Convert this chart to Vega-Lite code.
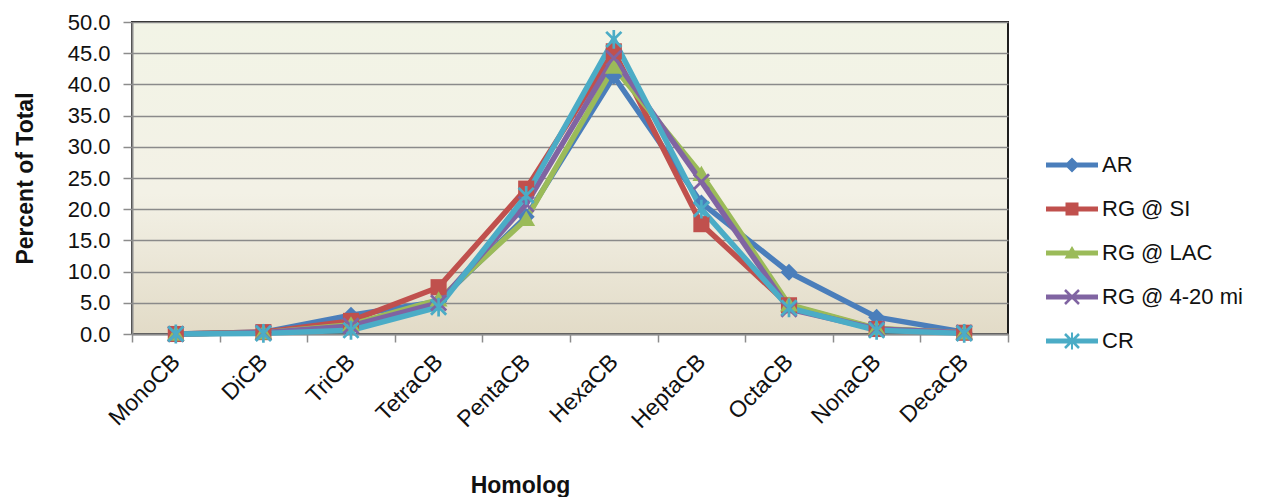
{
  "$schema": "https://vega.github.io/schema/vega-lite/v6.json",
  "width": 876,
  "height": 312,
  "autosize": "none",
  "padding": {"left": 132, "top": 22, "right": 268, "bottom": 163},
  "background": "#ffffff",
  "config": {
    "font": "Liberation Sans",
    "view": {
      "stroke": "#1e1e1e",
      "strokeWidth": 2,
      "fill": {"gradient": "linear", "x1": 0, "y1": 0, "x2": 0, "y2": 1, "stops": [{"offset": 0, "color": "#f2f4e6"}, {"offset": 0.55, "color": "#f3f1e6"}, {"offset": 1, "color": "#e2dbc7"}]}
    },
    "axis": {"labelColor": "#111111", "titleColor": "#111111", "labelFont": "Liberation Sans", "titleFont": "Liberation Sans"}
  },
  "data": {
    "values": [
      {"homolog": "MonoCB", "series": "AR", "value": 0.0},
      {"homolog": "DiCB", "series": "AR", "value": 0.3},
      {"homolog": "TriCB", "series": "AR", "value": 3.0},
      {"homolog": "TetraCB", "series": "AR", "value": 5.2},
      {"homolog": "PentaCB", "series": "AR", "value": 18.8},
      {"homolog": "HexaCB", "series": "AR", "value": 41.3},
      {"homolog": "HeptaCB", "series": "AR", "value": 21.0},
      {"homolog": "OctaCB", "series": "AR", "value": 9.9},
      {"homolog": "NonaCB", "series": "AR", "value": 2.7},
      {"homolog": "DecaCB", "series": "AR", "value": 0.3},
      {"homolog": "MonoCB", "series": "RG @ SI", "value": 0.0},
      {"homolog": "DiCB", "series": "RG @ SI", "value": 0.3},
      {"homolog": "TriCB", "series": "RG @ SI", "value": 2.1},
      {"homolog": "TetraCB", "series": "RG @ SI", "value": 7.5},
      {"homolog": "PentaCB", "series": "RG @ SI", "value": 23.3},
      {"homolog": "HexaCB", "series": "RG @ SI", "value": 45.3},
      {"homolog": "HeptaCB", "series": "RG @ SI", "value": 17.6},
      {"homolog": "OctaCB", "series": "RG @ SI", "value": 4.6},
      {"homolog": "NonaCB", "series": "RG @ SI", "value": 0.8},
      {"homolog": "DecaCB", "series": "RG @ SI", "value": 0.2},
      {"homolog": "MonoCB", "series": "RG @ LAC", "value": 0.0},
      {"homolog": "DiCB", "series": "RG @ LAC", "value": 0.2},
      {"homolog": "TriCB", "series": "RG @ LAC", "value": 1.5},
      {"homolog": "TetraCB", "series": "RG @ LAC", "value": 5.5},
      {"homolog": "PentaCB", "series": "RG @ LAC", "value": 18.4},
      {"homolog": "HexaCB", "series": "RG @ LAC", "value": 42.8},
      {"homolog": "HeptaCB", "series": "RG @ LAC", "value": 25.6},
      {"homolog": "OctaCB", "series": "RG @ LAC", "value": 4.7},
      {"homolog": "NonaCB", "series": "RG @ LAC", "value": 0.9},
      {"homolog": "DecaCB", "series": "RG @ LAC", "value": 0.2},
      {"homolog": "MonoCB", "series": "RG @ 4-20 mi", "value": 0.0},
      {"homolog": "DiCB", "series": "RG @ 4-20 mi", "value": 0.2},
      {"homolog": "TriCB", "series": "RG @ 4-20 mi", "value": 1.3},
      {"homolog": "TetraCB", "series": "RG @ 4-20 mi", "value": 5.0},
      {"homolog": "PentaCB", "series": "RG @ 4-20 mi", "value": 20.8},
      {"homolog": "HexaCB", "series": "RG @ 4-20 mi", "value": 44.2},
      {"homolog": "HeptaCB", "series": "RG @ 4-20 mi", "value": 24.4},
      {"homolog": "OctaCB", "series": "RG @ 4-20 mi", "value": 4.0},
      {"homolog": "NonaCB", "series": "RG @ 4-20 mi", "value": 0.8},
      {"homolog": "DecaCB", "series": "RG @ 4-20 mi", "value": 0.2},
      {"homolog": "MonoCB", "series": "CR", "value": 0.0},
      {"homolog": "DiCB", "series": "CR", "value": 0.1},
      {"homolog": "TriCB", "series": "CR", "value": 0.6},
      {"homolog": "TetraCB", "series": "CR", "value": 4.3},
      {"homolog": "PentaCB", "series": "CR", "value": 22.2},
      {"homolog": "HexaCB", "series": "CR", "value": 47.2},
      {"homolog": "HeptaCB", "series": "CR", "value": 20.0},
      {"homolog": "OctaCB", "series": "CR", "value": 4.2},
      {"homolog": "NonaCB", "series": "CR", "value": 0.6},
      {"homolog": "DecaCB", "series": "CR", "value": 0.1}
    ]
  },
  "encoding": {
    "x": {
      "field": "homolog",
      "type": "nominal",
      "sort": ["MonoCB", "DiCB", "TriCB", "TetraCB", "PentaCB", "HexaCB", "HeptaCB", "OctaCB", "NonaCB", "DecaCB"],
      "bandPosition": 0.5,
      "scale": {"type": "band", "paddingInner": 0, "paddingOuter": 0},
      "axis": {
        "title": "Homolog",
        "titleFontSize": 23,
        "titleFontWeight": "bold",
        "titleX": 388,
        "titleY": 158,
        "titleBaseline": "alphabetic",
        "labelAngle": -45,
        "labelAlign": "right",
        "labelBaseline": "middle",
        "labelFontSize": 23,
        "labelPadding": 16,
        "tickBand": "extent",
        "tickSize": 8,
        "tickColor": "#8c8c8c",
        "tickWidth": 1.5,
        "domainColor": "#8c8c8c",
        "domainWidth": 2,
        "grid": false
      }
    },
    "y": {
      "field": "value",
      "type": "quantitative",
      "scale": {"domain": [0, 50], "nice": false, "zero": true},
      "axis": {
        "title": "Percent of Total",
        "titleFontSize": 23,
        "titleFontWeight": "bold",
        "titlePadding": 30,
        "values": [0, 5, 10, 15, 20, 25, 30, 35, 40, 45, 50],
        "format": ".1f",
        "labelFontSize": 22,
        "labelPadding": 13,
        "tickSize": 9,
        "tickColor": "#8c8c8c",
        "tickWidth": 1.5,
        "domainColor": "#8c8c8c",
        "domainWidth": 2,
        "grid": true,
        "gridColor": "#8a8a8a",
        "gridWidth": 1.5
      }
    }
  },
  "resolve": {"scale": {"shape": "independent", "color": "independent"}},
  "layer": [
    {
      "mark": {"type": "line", "strokeWidth": 5.5, "strokeJoin": "round"},
      "encoding": {
        "color": {
          "field": "series",
          "type": "nominal",
          "scale": {"domain": ["AR", "RG @ SI", "RG @ LAC", "RG @ 4-20 mi", "CR"], "range": ["#4a7ebb", "#c0504d", "#9bbb59", "#8064a2", "#4bacc6"]},
          "legend": null
        }
      }
    },
    {
      "mark": {"type": "point", "filled": true, "opacity": 1, "size": 320},
      "encoding": {
        "color": {
          "field": "series",
          "type": "nominal",
          "scale": {"domain": ["AR", "RG @ SI", "RG @ LAC", "RG @ 4-20 mi", "CR"], "range": ["#4a7ebb", "#c0504d", "#9bbb59", "#8064a2", "#4bacc6"]},
          "legend": null
        },
        "shape": {
          "field": "series",
          "type": "nominal",
          "scale": {
            "domain": ["AR", "RG @ SI", "RG @ LAC", "RG @ 4-20 mi", "CR"],
            "range": [
              "M0,-0.95L0.95,0L0,0.95L-0.95,0Z",
              "M-0.9,-0.9H0.9V0.9H-0.9Z",
              "M0,-0.95L1,0.75H-1Z",
              "M-0.74,-0.96L0.96,0.74L0.74,0.96L-0.96,-0.74Z M0.96,-0.74L-0.74,0.96L-0.96,0.74L0.74,-0.96Z",
              "M-0.74,-0.96L0.96,0.74L0.74,0.96L-0.96,-0.74Z M0.96,-0.74L-0.74,0.96L-0.96,0.74L0.74,-0.96Z M-0.15,-1.05H0.15V1.05H-0.15Z"
            ]
          },
          "legend": null
        }
      }
    },
    {
      "transform": [{"filter": "datum.value < -1"}],
      "mark": {"type": "point", "filled": true, "opacity": 1},
      "encoding": {
        "color": {
          "field": "series",
          "type": "nominal",
          "scale": {"domain": ["AR", "RG @ SI", "RG @ LAC", "RG @ 4-20 mi", "CR"], "range": ["#4a7ebb", "#c0504d", "#9bbb59", "#8064a2", "#4bacc6"]},
          "legend": {
            "title": null,
            "orient": "none",
            "legendX": 929,
            "legendY": 132,
            "padding": 0,
            "symbolSize": 400,
            "symbolOpacity": 1,
            "labelFontSize": 22,
            "labelFont": "Liberation Sans",
            "labelColor": "#111111",
            "labelOffset": 19,
            "rowPadding": 22,
            "symbolStrokeWidth": 0
          }
        },
        "shape": {
          "field": "series",
          "type": "nominal",
          "scale": {
            "domain": ["AR", "RG @ SI", "RG @ LAC", "RG @ 4-20 mi", "CR"],
            "range": [
              "M-2.6,-0.24H2.6V0.24H-2.6Z M0,-0.75L0.75,0L0,0.75L-0.75,0Z",
              "M-2.6,-0.24H2.6V0.24H-2.6Z M-0.65,-0.65H0.65V0.65H-0.65Z",
              "M-2.6,-0.24H2.6V0.24H-2.6Z M0,-0.7L0.75,0.55H-0.75Z",
              "M-2.6,-0.24H2.6V0.24H-2.6Z M-0.61,-0.79L0.79,0.61L0.61,0.79L-0.79,-0.61Z M0.79,-0.61L-0.61,0.79L-0.79,0.61L0.61,-0.79Z",
              "M-2.6,-0.24H2.6V0.24H-2.6Z M-0.61,-0.79L0.79,0.61L0.61,0.79L-0.79,-0.61Z M0.79,-0.61L-0.61,0.79L-0.79,0.61L0.61,-0.79Z M-0.1,-0.85H0.1V0.85H-0.1Z"
            ]
          },
          "legend": {
            "title": null,
            "orient": "none",
            "legendX": 929,
            "legendY": 132,
            "padding": 0,
            "symbolSize": 400,
            "symbolOpacity": 1,
            "labelFontSize": 22,
            "labelFont": "Liberation Sans",
            "labelColor": "#111111",
            "labelOffset": 19,
            "rowPadding": 22,
            "symbolStrokeWidth": 0
          }
        }
      }
    }
  ]
}
